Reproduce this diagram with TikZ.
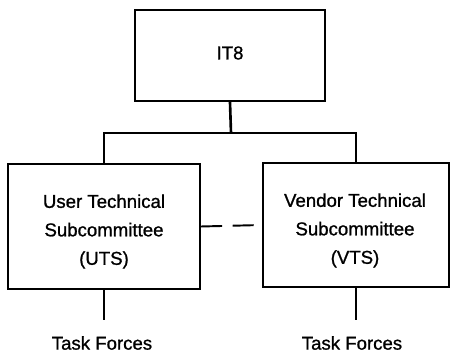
\documentclass[tikz,border=0pt]{standalone}
\usepackage{fontspec}
\setmainfont{Liberation Sans}[UprightFeatures={FakeBold=1}]
\tikzstyle{box}=[draw, line width=1.1pt]
\tikzstyle{boxtext}=[align=center, font=\fontsize{10.6}{16.2}\selectfont]
\tikzstyle{link}=[line width=1.5pt]
\tikzstyle{forces}=[font=\fontsize{10.6}{16.2}\selectfont]
\begin{document}
\begin{tikzpicture}[x=0.02cm, y=-0.02cm]
		   \useasboundingbox (0,0) rectangle (450,351);
		   \begin{scope}
			   \node (it8) at (230, 55.5) [box, minimum width=3.8cm, minimum height=1.82cm] {};
			   \node (uts) at (104, 226.5) [box, minimum width=3.84cm, minimum height=2.5cm] {};
			   \node (vts) at (356, 225) [box, minimum width=3.72cm, minimum height=2.48cm] {};
			   \node (it8text) at (230, 53) [boxtext] {IT8};
			   \node (utstext) at (104, 231.5) [boxtext] {User Technical\\Subcommittee\\(UTS)};
			   \node (vtstext) at (355, 230.5) [boxtext] {Vendor Technical\\Subcommittee\\(VTS)};
			   \node (utstf) at (102, 343) [forces] {Task Forces};
			   \node (vtstf) at (352, 343) [forces] {Task Forces};
			   \coordinate (bus) at (231, 133);
			   \coordinate (utsend) at (104, 320);
			   \coordinate (vtsend) at (356, 320);
		   \end{scope}
		   \begin{scope}
			   \draw [link] (it8.south) -- (bus);
			   \draw [link] (uts.north) |- (bus) -| (vts.north);
			   \draw [link] (uts.south) -- (utsend);
			   \draw [link] (vts.south) -- (vtsend);
			   \draw [line width=1.1pt, dash pattern=on 12pt off 6pt] (uts.east) -- (vts.west);
		   \end{scope}
\end{tikzpicture}
\end{document}
